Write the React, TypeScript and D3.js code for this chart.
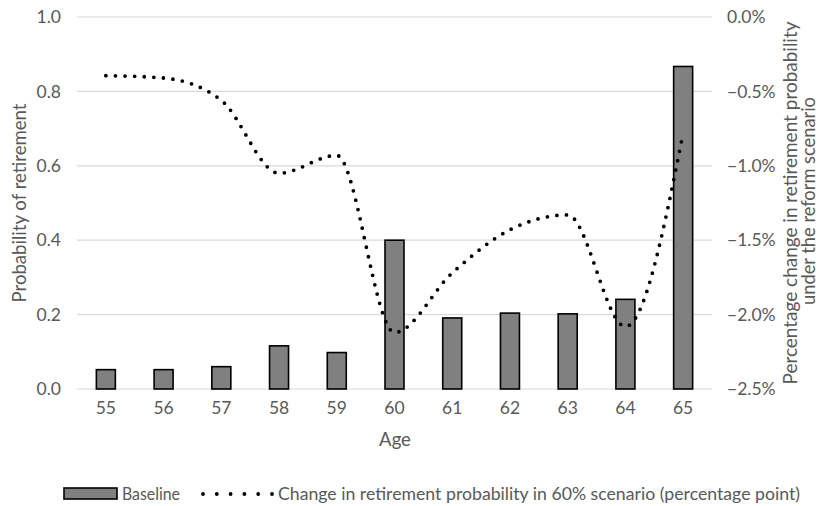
import React from "react";
import * as d3 from "d3";

const ages = ["55", "56", "57", "58", "59", "60", "61", "62", "63", "64", "65"];
const baseline = [0.052, 0.052, 0.06, 0.116, 0.098, 0.4, 0.191, 0.204, 0.202, 0.241, 0.867];
const change = [-0.394, -0.41, -0.56, -1.05, -0.93, -2.12, -1.72, -1.43, -1.33, -2.08, -0.78];
const leftTicks = [0, 0.2, 0.4, 0.6, 0.8, 1.0];
const rightTicks = [0, -0.5, -1.0, -1.5, -2.0, -2.5];

const W = 820, H = 506;
const L = 77, R = 712, T = 17, B = 389;
const FONT = "Lato, 'Open Sans', sans-serif";

export default function App() {
  const x = d3.scaleBand().domain(ages).range([L, R]).paddingInner(0).paddingOuter(0);
  const yL = d3.scaleLinear().domain([0, 1]).range([B, T]);
  const yR = d3.scaleLinear().domain([-2.5, 0]).range([B, T]);
  const barW = 19;
  const cx = (a: string) => (x(a) as number) + x.bandwidth() / 2;
  const line = d3
    .line<number>()
    .x((_, i) => cx(ages[i]))
    .y((d) => yR(d))
    .curve(d3.curveMonotoneX);

  return (
    <svg width={W} height={H} style={{ position: "absolute", left: 0, top: 0, background: "#fff" }} fontFamily={FONT}>
      {leftTicks.map((t) => (
        <line key={t} x1={L} x2={R} y1={yL(t)} y2={yL(t)} stroke="#d9d9d9" strokeWidth={1.2} />
      ))}
      {leftTicks.map((t) => (
        <text key={"l" + t} x={61} y={yL(t)} dy="0.35em" textAnchor="end" fontSize={17.5} fill="#595959">
          {d3.format(".1f")(t)}
        </text>
      ))}
      {rightTicks.map((t) => (
        <text key={"r" + t} x={727} y={yR(t)} dy="0.35em" textAnchor="start" fontSize={17.5} fill="#595959">
          {d3.format(".1f")(t) + "%"}
        </text>
      ))}
      {ages.map((a) => (
        <text key={"x" + a} x={cx(a)} y={414} textAnchor="middle" fontSize={17.5} fill="#595959">
          {a}
        </text>
      ))}
      {ages.map((a, i) => (
        <rect
          key={"b" + a}
          x={cx(a) - barW / 2}
          y={yL(baseline[i])}
          width={barW}
          height={B - yL(baseline[i])}
          fill="#808080"
          stroke="#000"
          strokeWidth={1.6}
        />
      ))}
      <path
        d={line(change) || ""}
        fill="none"
        stroke="#000"
        strokeWidth={3.8}
        strokeLinecap="round"
        strokeDasharray="0 9.6"
      />
      <text x={395} y={446} textAnchor="middle" fontSize={18.5} fill="#595959">Age</text>
      <text transform={`translate(26,${203}) rotate(-90)`} textAnchor="middle" fontSize={18.5} fill="#595959"
        textLength={199} lengthAdjust="spacingAndGlyphs">
        Probability of retirement
      </text>
      <text transform={`translate(797,${203}) rotate(-90)`} textAnchor="middle" fontSize={18.5} fill="#595959"
        textLength={363} lengthAdjust="spacingAndGlyphs">
        Percentage change in retirement probability
      </text>
      <text transform={`translate(815,${201}) rotate(-90)`} textAnchor="middle" fontSize={18.5} fill="#595959"
        textLength={208} lengthAdjust="spacingAndGlyphs">
        under the reform scenario
      </text>
      <rect x={64} y={488} width={53} height={11} fill="#808080" stroke="#000" strokeWidth={1.6} />
      <text x={122} y={500} fontSize={17.5} fill="#595959" textLength={58} lengthAdjust="spacingAndGlyphs">Baseline</text>
      <line x1={203} x2={272} y1={494} y2={494} stroke="#000" strokeWidth={3.8} strokeLinecap="round" strokeDasharray="0 13.8" />
      <text x={278} y={500} fontSize={17.5} fill="#595959" textLength={522} lengthAdjust="spacingAndGlyphs">
        Change in retirement probability in 60% scenario (percentage point)
      </text>
    </svg>
  );
}
